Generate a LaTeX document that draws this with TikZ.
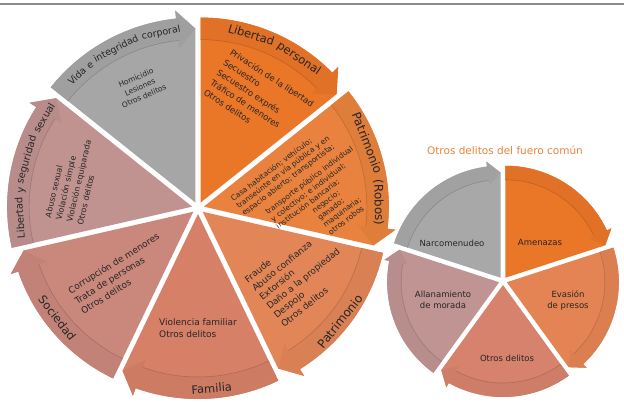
\documentclass[tikz,border=0pt]{standalone}
\usepackage{fontspec}
\setmainfont{DejaVu Sans}
\definecolor{cLP}{RGB}{234,118,40}
\definecolor{cRB}{RGB}{232,130,62}
\definecolor{cPT}{RGB}{226,134,88}
\definecolor{cFA}{RGB}{214,128,104}
\definecolor{cSO}{RGB}{202,135,124}
\definecolor{cSX}{RGB}{192,146,144}
\definecolor{cVI}{RGB}{166,166,166}
\definecolor{cAM}{RGB}{234,118,40}
\definecolor{cEV}{RGB}{228,132,84}
\definecolor{cOD}{RGB}{214,130,108}
\definecolor{cAL}{RGB}{192,148,146}
\definecolor{cNA}{RGB}{168,168,168}
\definecolor{txt}{RGB}{38,38,38}
\definecolor{ttl}{RGB}{232,132,60}
\newcommand\segarrow[4]{%
\begin{scope}[shift={(#1)},shift={({(#2+#3)/2}:\segD)}]
\fill[#4] (0,0) -- ({#2}:\segR) arc[start angle={#2}, end angle={#3+\segH}, radius=\segR] -- ({#3+\segH}:{\segR+\segE}) -- ({#3}:{\segR-\segW/2}) -- cycle;
\fill[#4!96!black] ({#2}:\segR) arc[start angle={#2}, end angle={#3+\segH}, radius=\segR] -- ({#3+\segH}:{\segR+\segE}) -- ({#3}:{\segR-\segW/2}) -- ({#3+\segH}:{\segR-\segW-\segE}) -- ({#3+\segH}:{\segR-\segW}) arc[start angle={#3+\segH}, end angle={#2}, radius={\segR-\segW}] -- cycle;
\draw[#4!82!black, line width=0.6pt] ({#2}:{\segR-\segW}) arc[start angle={#2}, end angle={#3+\segH}, radius={\segR-\segW}];
\end{scope}}
% word on an arc: #1 name, #2 angle, #3 radius, #4 text ; cw = letters outward, ccw = letters inward
\newcommand\cwword[4]{\node[hdr, anchor=base, rotate={#2-90}] (#1) at ({#2}:#3) {#4};}
\newcommand\ccwword[4]{\node[hdr, anchor=base, rotate={#2+90}] (#1) at ({#2}:#3) {#4};}
\tikzset{
  body/.style={text=txt, inner sep=0pt, align=left},
  cbody/.style={text=txt, inner sep=0pt, align=center},
  hdr/.style={text=txt, inner sep=0pt}
}
\begin{document}
\begin{tikzpicture}[x=1pt,y=1pt]
\useasboundingbox (0,0) rectangle (624,403);
\fill[white] (0,0) rectangle (624,403);
\draw[black!45, line width=1.5pt] (0,399) -- (624,399);
\coordinate (C) at (198,195);
\coordinate (S) at (503,122);
% ---- big cycle
\def\segR{185}\def\segW{22}\def\segE{8}\def\segH{6}\def\segD{6}
\segarrow{C}{90}{38.57}{cLP}
\segarrow{C}{38.57}{-12.86}{cRB}
\segarrow{C}{-12.86}{-64.29}{cPT}
\segarrow{C}{-64.29}{-115.71}{cFA}
\segarrow{C}{-115.71}{-167.14}{cSO}
\segarrow{C}{-167.14}{-218.57}{cSX}
\segarrow{C}{-218.57}{-270}{cVI}
% headers
\begin{scope}[shift={(C)},shift={(64.29:\segD)},hdr/.append style={font=\fontsize{11.5}{13}\selectfont}]
\cwword{hlp1}{73.2}{171}{Libertad}
\cwword{hlp2}{55.7}{171}{personal}
\end{scope}
\begin{scope}[shift={(C)},shift={(12.86:\segD)},hdr/.append style={font=\fontsize{12}{14}\selectfont}]
\cwword{hrb1}{21.27}{171}{Patrimonio}
\cwword{hrb2}{1.33}{171}{(Robos)}
\end{scope}
\begin{scope}[shift={(C)},shift={(-38.57:\segD)},hdr/.append style={font=\fontsize{12}{14}\selectfont}]
\ccwword{hpt}{-38.57}{180}{Patrimonio}
\end{scope}
\begin{scope}[shift={(C)},shift={(-90:\segD)},hdr/.append style={font=\fontsize{11.5}{14}\selectfont}]
\ccwword{hfa}{-85.5}{179}{Familia}
\end{scope}
\begin{scope}[shift={(C)},shift={(-141.43:\segD)},hdr/.append style={font=\fontsize{11.5}{14}\selectfont}]
\ccwword{hso}{-142}{177}{Sociedad}
\end{scope}
\begin{scope}[shift={(C)},shift={(-192.86:\segD)},hdr/.append style={font=\fontsize{10}{12}\selectfont}]
\cwword{hsx1}{-176.28}{169}{Libertad}
\cwword{hsx2}{-185.38}{169}{y}
\cwword{hsx3}{-195.9}{169}{seguridad}
\cwword{hsx4}{-210.95}{169}{sexual}
\end{scope}
\begin{scope}[shift={(C)},shift={(115.71:\segD)},hdr/.append style={font=\fontsize{9.5}{12}\selectfont}]
\cwword{hvi1}{133.03}{170}{Vida}
\cwword{hvi2}{127.49}{170}{e}
\cwword{hvi3}{117.28}{170}{integridad}
\cwword{hvi4}{101.45}{170}{corporal}
\end{scope}
% bodies
\node[cbody, font=\fontsize{7.5}{10}\selectfont, rotate=24] (vi) at (140,316) {Homicidio\\Lesiones\\Otros delitos};
\node[body, font=\fontsize{8.5}{12}\selectfont, rotate=-33] (lp) at (259,305) {Privación de la libertad\\Secuestro\\Secuestro exprés\\Tráfico de menores\\Otros delitos};
\node[body, font=\fontsize{7.5}{9}\selectfont, rotate=37, anchor=north west] (rb1) at (229.6,206.2) {Casa habitación; vehículo;\\transeúnte en vía pública y en\\espacio abierto; transportista;};
\node[body, font=\fontsize{7.5}{9}\selectfont, rotate=37, anchor=north west] (rb2) at (264,193) {transporte público individual\\y colectivo; e individual;\\institución bancaria;};
\node[body, font=\fontsize{7.5}{9}\selectfont, rotate=37, anchor=north west] (rb3) at (311,194) {negocio;\\ganado;\\maquinaria;\\otros robos};
\node[body, font=\fontsize{9}{11.5}\selectfont, rotate=39, anchor=north west] (pt) at (243.5,125.3) {Fraude\\Abuso confianza\\Extorsión\\Daño a la propiedad\\Despojo\\Otros delitos};
\node[body, font=\fontsize{9}{12}\selectfont, anchor=north west] (fa) at (159,85) {Violencia familiar\\Otros delitos};
\node[body, font=\fontsize{9}{12}\selectfont, rotate=32, anchor=north west] (so) at (66.8,115.1) {Corrupción de menores\\Trata de personas\\Otros delitos};
\node[body, font=\fontsize{8}{11}\selectfont, rotate=77, anchor=north west] (sx) at (44.6,186.2) {Abuso sexual\\Violación simple\\Violación equiparada\\Otros delitos};
% ---- small cycle
\def\segR{112}\def\segW{14}\def\segE{5}\def\segH{7}\def\segD{4}
\segarrow{S}{90}{18}{cAM}
\segarrow{S}{18}{-54}{cEV}
\segarrow{S}{-54}{-126}{cOD}
\segarrow{S}{-126}{-198}{cAL}
\segarrow{S}{-198}{-270}{cNA}
\node[text=ttl, font=\fontsize{10.5}{12}\selectfont] (title) at (505,253) {Otros delitos del fuero común};
\node[cbody, font=\fontsize{8.5}{11}\selectfont] (na) at (452,160) {Narcomenudeo};
\node[cbody, font=\fontsize{8.5}{11}\selectfont] (am) at (540,161) {Amenazas};
\node[cbody, font=\fontsize{8.5}{11}\selectfont] (ev) at (568,103) {Evasión\\de presos};
\node[cbody, font=\fontsize{8.5}{11}\selectfont] (od) at (507,45) {Otros delitos};
\node[cbody, font=\fontsize{8.5}{11}\selectfont] (al) at (443,103) {Allanamiento\\de morada};
\end{tikzpicture}
\end{document}
